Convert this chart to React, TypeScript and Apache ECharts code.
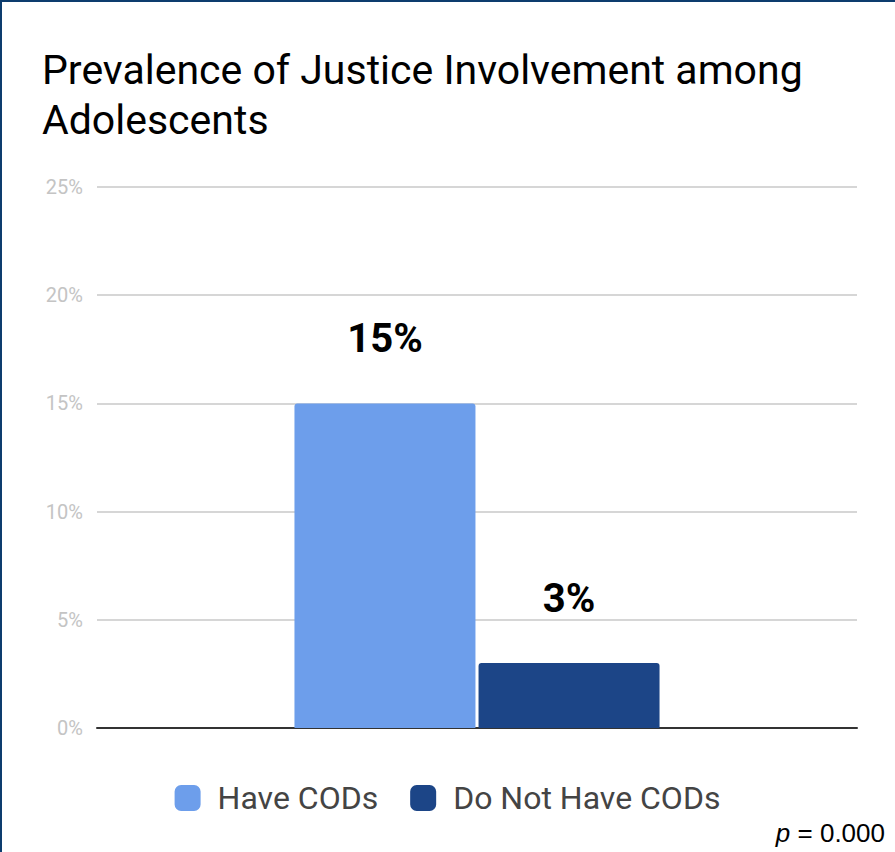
import React, { useEffect, useRef } from "react";
import * as echarts from "echarts";

const categories = ["Adolescents"];
const seriesNames = ["Have CODs", "Do Not Have CODs"];
const haveCODs = [15];
const doNotHaveCODs = [3];
const seriesColors = ["#6d9eeb", "#1c4587"];
const titleText = "Prevalence of Justice Involvement among\nAdolescents";
const pValueText = "= 0.000";

export default function App() {
  const ref = useRef<HTMLDivElement>(null);
  useEffect(() => {
    document.body.style.margin = "0";
    const chart = echarts.init(ref.current!, null, { renderer: "svg" });
    const labelStyle = {
      show: true,
      position: "top" as const,
      distance: 45,
      formatter: "{c}%",
      fontSize: 40,
      fontWeight: "bold" as const,
      color: "#000",
      fontFamily: "Roboto",
    };
    chart.setOption({
      animation: false,
      backgroundColor: "#fff",
      textStyle: { fontFamily: "Roboto" },
      title: {
        text: titleText,
        left: 37,
        top: 40,
        textStyle: { fontSize: 41, fontWeight: "normal", color: "#000", fontFamily: "Roboto", lineHeight: 50 },
      },
      legend: {
        data: seriesNames,
        left: "center",
        top: 777,
        itemWidth: 26,
        itemHeight: 26,
        itemGap: 32,
        icon: "roundRect",
        textStyle: { fontSize: 32, color: "#444", fontFamily: "Roboto", padding: [0, 0, 0, 12] },
      },
      grid: { left: 97, right: 38, top: 187, bottom: 124 },
      xAxis: {
        type: "category",
        data: categories,
        axisLine: { show: true, lineStyle: { color: "#333", width: 2 } },
        axisTick: { show: false },
        axisLabel: { show: false },
      },
      yAxis: {
        type: "value",
        min: 0,
        max: 25,
        interval: 5,
        axisLine: { show: false },
        axisTick: { show: false },
        axisLabel: { formatter: "{value}%", fontSize: 20, color: "#c4c4c4", margin: 14, fontFamily: "Roboto" },
        splitLine: { lineStyle: { color: "#d6d6d6", width: 2 } },
      },
      series: [
        {
          name: seriesNames[0],
          type: "bar",
          data: haveCODs,
          barWidth: 181,
          barGap: "1.7%",
          itemStyle: { color: seriesColors[0], borderRadius: [3, 3, 0, 0] },
          label: labelStyle,
        },
        {
          name: seriesNames[1],
          type: "bar",
          data: doNotHaveCODs,
          barWidth: 181,
          itemStyle: { color: seriesColors[1], borderRadius: [3, 3, 0, 0] },
          label: labelStyle,
        },
      ],
      graphic: [
        {
          type: "text",
          right: 10,
          bottom: 6,
          style: {
            text: "{p|p} " + pValueText,
            rich: {
              p: { fontStyle: "italic", fontSize: 26, fill: "#000", fontFamily: "Liberation Sans" },
            },
            font: "26px 'Liberation Sans'",
            fill: "#000",
          },
        },
      ],
    });
    return () => chart.dispose();
  }, []);
  return (
    <div style={{ position: "relative", width: 895, height: 852 }}>
      <div ref={ref} style={{ position: "absolute", left: 0, top: 0, width: 895, height: 852 }} />
      <div style={{ position: "absolute", left: 0, top: 0, width: 895, height: 2, background: "#0d3c6e" }} />
      <div style={{ position: "absolute", left: 0, top: 0, width: 2, height: 852, background: "#0d3c6e" }} />
    </div>
  );
}
